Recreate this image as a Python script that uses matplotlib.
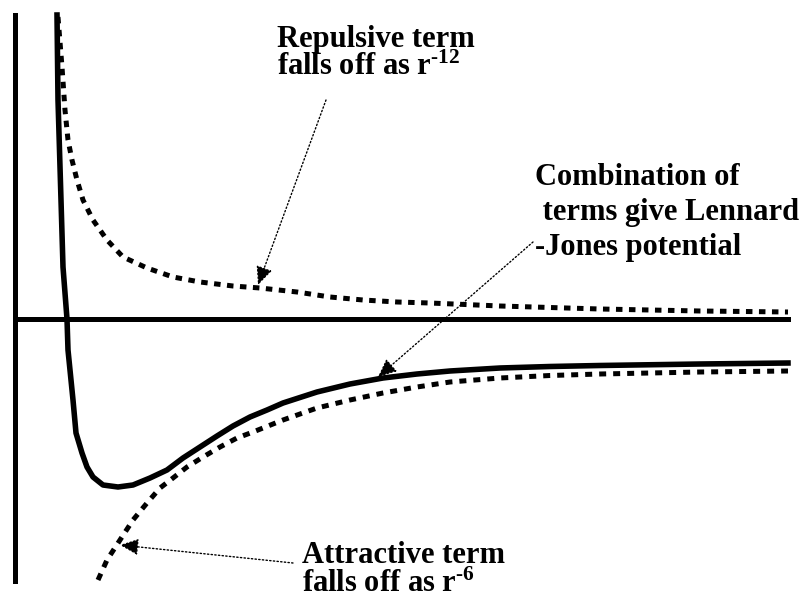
"""Schematic of the Lennard-Jones potential and its two terms."""

import matplotlib
matplotlib.use("Agg")
import matplotlib.pyplot as plt

# -----------------------------
# Data (r along the axis, V above / below zero)
# -----------------------------
rCombined = [42, 43, 46, 48, 52, 53, 58, 61, 67, 72, 78, 88, 103, 118, 135, 152, 168,
             185, 202, 218, 235, 252, 268, 302, 335, 368, 402, 435, 485, 535, 585, 685, 773]
vCombined = [304, 219, 119, 52, 0, -31, -81, -114, -134, -148, -158, -166, -168, -166,
             -159, -151, -139, -128, -117, -107, -98, -91, -84, -73, -65, -59, -55, -52,
             -49, -47.5, -46.5, -45, -44]

rRepulsive = [43, 47, 50, 53, 57, 62, 68, 78, 92, 108, 132, 158, 185, 218, 245, 282,
              315, 348, 382, 415, 485, 585, 685, 773]
vRepulsive = [302, 252, 209, 179, 159, 139, 119, 99, 79, 62, 51, 42, 37, 33, 31, 27,
              22, 19, 17, 16, 13, 10, 8, 7]

rAttractive = [83, 92, 105, 118, 132, 145, 158, 172, 188, 205, 222, 238, 268, 302, 335,
               368, 402, 435, 485, 535, 585, 685, 773]
vAttractive = [-261, -241, -221, -201, -184, -169, -159, -148, -138, -128, -119, -113,
               -101, -89, -81, -74, -68, -63, -59, -56.5, -55, -53, -52]

repulsiveLines = ["Repulsive term", r"falls off as r$^{\text{-12}}$"]
attractiveLines = ["Attractive term", r"falls off as r$^{\text{-6}}$"]
combinedLines = ["Combination of", " terms give Lennard", "-Jones potential"]

plt.rcParams["mathtext.fontset"] = "custom"
plt.rcParams["mathtext.rm"] = "Liberation Serif:bold"
plt.rcParams["mathtext.it"] = "Liberation Serif:bold"
plt.rcParams["mathtext.bf"] = "Liberation Serif:bold"

labelFont = {"family": "Liberation Serif", "weight": "bold", "size": 22}


def drawArrow(ax, tip, tail):
    """Thin dotted pointer with a filled head."""
    ax.annotate("", xy=tip, xytext=tail,
                arrowprops=dict(arrowstyle="-|>,head_length=0.45,head_width=0.2",
                                mutation_scale=25, lw=1.0, linestyle=":",
                                color="black", shrinkA=0, shrinkB=0))


def drawLabel(ax, x, baselines, lines):
    """Write a block of bold lines, one text per line."""
    for yValue, line in zip(baselines, lines):
        ax.text(x, yValue, line, ha="left", va="baseline", **labelFont)


def main():
    fig = plt.figure(figsize=(8.06, 5.98), dpi=100)
    ax = fig.add_axes([0, 0, 1, 1])
    ax.set_xlim(-15, 791)
    ax.set_ylim(-279, 319)

    # axes drawn as thick lines through the origin
    for side in ["top", "right"]:
        ax.spines[side].set_visible(False)
    ax.spines["left"].set_position(("data", 0))
    ax.spines["bottom"].set_position(("data", 0))
    ax.spines["left"].set_bounds(-262, 304)
    ax.spines["bottom"].set_bounds(0, 773)
    for side in ["left", "bottom"]:
        ax.spines[side].set_linewidth(3.6)
    ax.set_xticks([])
    ax.set_yticks([])

    ax.plot(rRepulsive, vRepulsive, color="black", lw=3.6, dashes=(1.3, 1.3))
    ax.plot(rAttractive, vAttractive, color="black", lw=3.6, dashes=(1.4, 1.4))
    ax.plot(rCombined, vCombined, color="black", lw=4.0, solid_joinstyle="round")

    drawLabel(ax, 262, [272, 244], repulsiveLines)
    drawLabel(ax, 520, [134, 99, 64], combinedLines)
    drawLabel(ax, 287, [-244, -273], attractiveLines)

    drawArrow(ax, (243, 34), (311, 219))
    drawArrow(ax, (363, -58), (518, 77))
    drawArrow(ax, (105, -226), (278, -244))

    fig.savefig("out.png", dpi=100)


if __name__ == "__main__":
    main()
